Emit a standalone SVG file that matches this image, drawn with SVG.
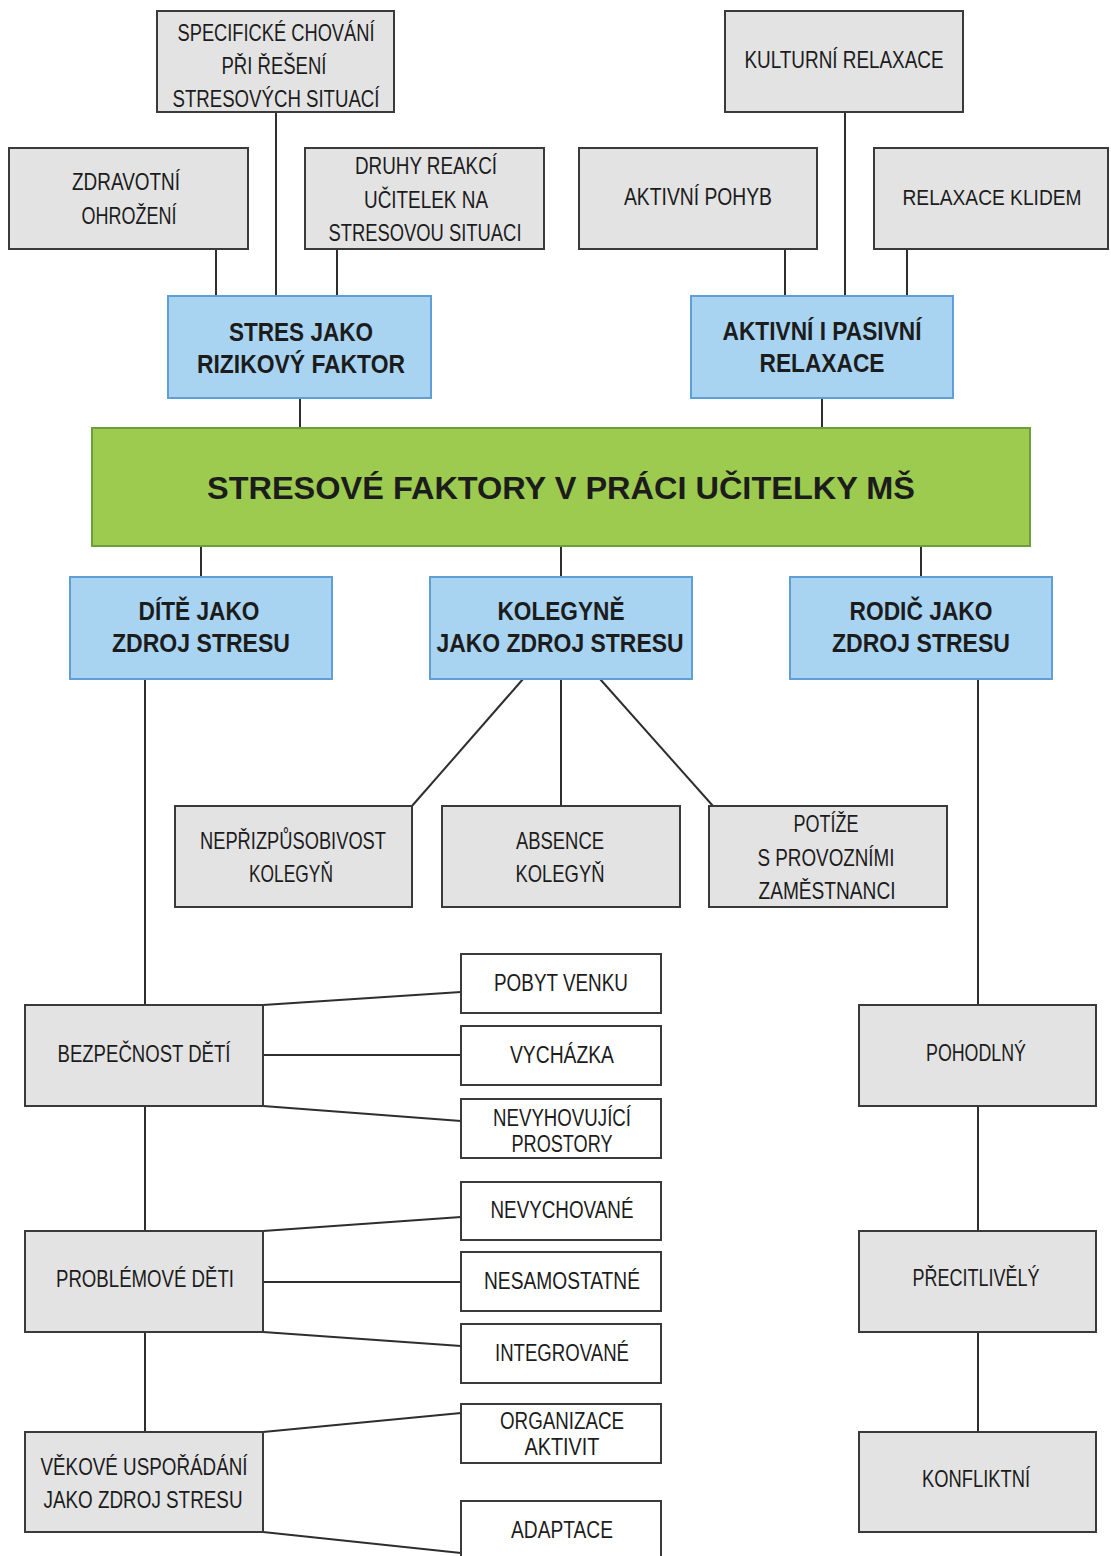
<svg xmlns="http://www.w3.org/2000/svg" width="1111" height="1556" viewBox="0 0 1111 1556">
<style>
.g rect{fill:#e3e3e3;stroke:#3a3a3a;stroke-width:2}
.w rect{fill:#ffffff;stroke:#3a3a3a;stroke-width:2}
.b rect{fill:#a8d4f2;stroke:#5f9fd6;stroke-width:2}
.m rect{fill:#9ccb50;stroke:#6a9f3c;stroke-width:2}
text{font-family:"Liberation Sans",Arial,sans-serif;fill:#1c1c1c;text-anchor:middle}
.g text{font-size:24px}
.w text{font-size:23px}
.b text{font-size:25px;font-weight:bold}
.m text{font-size:32px;font-weight:bold}
#connectors line{stroke:#2e2e2e;stroke-width:2}
</style>
<rect width="1111" height="1556" fill="#ffffff"/>
<g id="connectors">
<line x1="276" y1="112" x2="276" y2="296"/>
<line x1="216" y1="249" x2="216" y2="296"/>
<line x1="337" y1="249" x2="337" y2="296"/>
<line x1="300" y1="398" x2="300" y2="428"/>
<line x1="845" y1="112" x2="845" y2="296"/>
<line x1="785" y1="249" x2="785" y2="296"/>
<line x1="907" y1="249" x2="907" y2="296"/>
<line x1="822" y1="398" x2="822" y2="428"/>
<line x1="201" y1="546" x2="201" y2="577"/>
<line x1="561" y1="546" x2="561" y2="577"/>
<line x1="921" y1="546" x2="921" y2="577"/>
<line x1="523" y1="679" x2="412" y2="806"/>
<line x1="561" y1="679" x2="561" y2="806"/>
<line x1="600" y1="679" x2="713" y2="806"/>
<line x1="145" y1="679" x2="145" y2="1005"/>
<line x1="145" y1="1106" x2="145" y2="1231"/>
<line x1="145" y1="1332" x2="145" y2="1432"/>
<line x1="263" y1="1005" x2="461" y2="992"/>
<line x1="263" y1="1055" x2="461" y2="1055"/>
<line x1="263" y1="1106" x2="461" y2="1121"/>
<line x1="263" y1="1231" x2="461" y2="1217"/>
<line x1="263" y1="1282" x2="461" y2="1282"/>
<line x1="263" y1="1332" x2="461" y2="1346"/>
<line x1="263" y1="1432" x2="461" y2="1413"/>
<line x1="263" y1="1532" x2="461" y2="1553"/>
<line x1="978" y1="679" x2="978" y2="1005"/>
<line x1="978" y1="1106" x2="978" y2="1231"/>
<line x1="978" y1="1332" x2="978" y2="1432"/>
</g>
<g id="n-specificke" class="g"><rect x="157" y="11" width="237" height="101"/>
<text x="276" y="41" textLength="197" lengthAdjust="spacingAndGlyphs">SPECIFICKÉ CHOVÁNÍ</text>
<text x="274" y="74" textLength="105" lengthAdjust="spacingAndGlyphs">PŘI ŘEŠENÍ</text>
<text x="276" y="107" textLength="207" lengthAdjust="spacingAndGlyphs">STRESOVÝCH SITUACÍ</text></g>
<g id="n-zdravotni" class="g"><rect x="9" y="148" width="239" height="101"/>
<text x="126" y="190" textLength="108" lengthAdjust="spacingAndGlyphs">ZDRAVOTNÍ</text>
<text x="129" y="224" textLength="95" lengthAdjust="spacingAndGlyphs">OHROŽENÍ</text></g>
<g id="n-druhy" class="g"><rect x="305" y="148" width="239" height="101"/>
<text x="426" y="174" textLength="142" lengthAdjust="spacingAndGlyphs">DRUHY REAKCÍ</text>
<text x="426" y="208" textLength="124" lengthAdjust="spacingAndGlyphs">UČITELEK NA</text>
<text x="425" y="241" textLength="193" lengthAdjust="spacingAndGlyphs">STRESOVOU SITUACI</text></g>
<g id="n-stres" class="b"><rect x="168" y="296" width="263" height="102"/>
<text x="301" y="341" textLength="144" lengthAdjust="spacingAndGlyphs">STRES JAKO</text>
<text x="301" y="373" textLength="208" lengthAdjust="spacingAndGlyphs">RIZIKOVÝ FAKTOR</text></g>
<g id="n-kulturni" class="g"><rect x="725" y="11" width="238" height="101"/>
<text x="844" y="68" textLength="199" lengthAdjust="spacingAndGlyphs">KULTURNÍ RELAXACE</text></g>
<g id="n-aktivni-pohyb" class="g"><rect x="579" y="148" width="238" height="101"/>
<text x="698" y="205" textLength="148" lengthAdjust="spacingAndGlyphs">AKTIVNÍ POHYB</text></g>
<g id="n-relaxace-klidem" class="g"><rect x="874" y="148" width="234" height="101"/>
<text x="992" y="205" style="font-size:22px" textLength="179" lengthAdjust="spacingAndGlyphs">RELAXACE KLIDEM</text></g>
<g id="n-relaxace" class="b"><rect x="691" y="296" width="262" height="102"/>
<text x="822" y="340" textLength="199" lengthAdjust="spacingAndGlyphs">AKTIVNÍ I PASIVNÍ</text>
<text x="822" y="372" textLength="125" lengthAdjust="spacingAndGlyphs">RELAXACE</text></g>
<g id="n-main" class="m"><rect x="92" y="428" width="938" height="118"/>
<text x="561" y="499" textLength="708" lengthAdjust="spacingAndGlyphs">STRESOVÉ FAKTORY V PRÁCI UČITELKY MŠ</text></g>
<g id="n-dite" class="b"><rect x="70" y="577" width="262" height="102"/>
<text x="199" y="620" textLength="121" lengthAdjust="spacingAndGlyphs">DÍTĚ JAKO</text>
<text x="201" y="652" textLength="178" lengthAdjust="spacingAndGlyphs">ZDROJ STRESU</text></g>
<g id="n-kolegyne" class="b"><rect x="430" y="577" width="262" height="102"/>
<text x="561" y="620" textLength="127" lengthAdjust="spacingAndGlyphs">KOLEGYNĚ</text>
<text x="560" y="652" textLength="247" lengthAdjust="spacingAndGlyphs">JAKO ZDROJ STRESU</text></g>
<g id="n-rodic" class="b"><rect x="790" y="577" width="262" height="102"/>
<text x="921" y="620" textLength="143" lengthAdjust="spacingAndGlyphs">RODIČ JAKO</text>
<text x="921" y="652" textLength="178" lengthAdjust="spacingAndGlyphs">ZDROJ STRESU</text></g>
<g id="n-neprizpusobivost" class="g"><rect x="175" y="806" width="237" height="101"/>
<text x="293" y="849" textLength="186" lengthAdjust="spacingAndGlyphs">NEPŘIZPŮSOBIVOST</text>
<text x="291" y="882" textLength="84" lengthAdjust="spacingAndGlyphs">KOLEGYŇ</text></g>
<g id="n-absence" class="g"><rect x="442" y="806" width="238" height="101"/>
<text x="560" y="849" textLength="88" lengthAdjust="spacingAndGlyphs">ABSENCE</text>
<text x="560" y="882" textLength="89" lengthAdjust="spacingAndGlyphs">KOLEGYŇ</text></g>
<g id="n-potize" class="g"><rect x="709" y="806" width="238" height="101"/>
<text x="826" y="832" textLength="65" lengthAdjust="spacingAndGlyphs">POTÍŽE</text>
<text x="826" y="866" textLength="137" lengthAdjust="spacingAndGlyphs">S PROVOZNÍMI</text>
<text x="827" y="899" textLength="137" lengthAdjust="spacingAndGlyphs">ZAMĚSTNANCI</text></g>
<g id="n-bezpecnost" class="g"><rect x="25" y="1005" width="238" height="101"/>
<text x="144" y="1062" textLength="173" lengthAdjust="spacingAndGlyphs">BEZPEČNOST DĚTÍ</text></g>
<g id="n-problemove" class="g"><rect x="25" y="1231" width="238" height="101"/>
<text x="145" y="1287" textLength="178" lengthAdjust="spacingAndGlyphs">PROBLÉMOVÉ DĚTI</text></g>
<g id="n-vekove" class="g"><rect x="25" y="1432" width="238" height="100"/>
<text x="144" y="1475" textLength="207" lengthAdjust="spacingAndGlyphs">VĚKOVÉ USPOŘÁDÁNÍ</text>
<text x="143" y="1508" textLength="199" lengthAdjust="spacingAndGlyphs">JAKO ZDROJ STRESU</text></g>
<g id="n-pobyt" class="w"><rect x="461" y="954" width="200" height="59"/>
<text x="561" y="991" textLength="134" lengthAdjust="spacingAndGlyphs">POBYT VENKU</text></g>
<g id="n-vychazka" class="w"><rect x="461" y="1026" width="200" height="59"/>
<text x="562" y="1063" textLength="104" lengthAdjust="spacingAndGlyphs">VYCHÁZKA</text></g>
<g id="n-nevyhovujici" class="w"><rect x="461" y="1099" width="200" height="59"/>
<text x="562" y="1126" textLength="138" lengthAdjust="spacingAndGlyphs">NEVYHOVUJÍCÍ</text>
<text x="562" y="1152" textLength="101" lengthAdjust="spacingAndGlyphs">PROSTORY</text></g>
<g id="n-nevychovane" class="w"><rect x="461" y="1182" width="200" height="58"/>
<text x="562" y="1218" textLength="143" lengthAdjust="spacingAndGlyphs">NEVYCHOVANÉ</text></g>
<g id="n-nesamostatne" class="w"><rect x="461" y="1252" width="200" height="59"/>
<text x="562" y="1289" textLength="156" lengthAdjust="spacingAndGlyphs">NESAMOSTATNÉ</text></g>
<g id="n-integrovane" class="w"><rect x="461" y="1324" width="200" height="59"/>
<text x="562" y="1361" textLength="134" lengthAdjust="spacingAndGlyphs">INTEGROVANÉ</text></g>
<g id="n-organizace" class="w"><rect x="461" y="1404" width="200" height="59"/>
<text x="562" y="1429" textLength="124" lengthAdjust="spacingAndGlyphs">ORGANIZACE</text>
<text x="562" y="1455" textLength="75" lengthAdjust="spacingAndGlyphs">AKTIVIT</text></g>
<g id="n-adaptace" class="w"><rect x="461" y="1501" width="200" height="70"/>
<text x="562" y="1538" textLength="102" lengthAdjust="spacingAndGlyphs">ADAPTACE</text></g>
<g id="n-pohodlny" class="g"><rect x="859" y="1005" width="237" height="101"/>
<text x="976" y="1061" textLength="100" lengthAdjust="spacingAndGlyphs">POHODLNÝ</text></g>
<g id="n-precitlively" class="g"><rect x="859" y="1231" width="237" height="101"/>
<text x="976" y="1286" textLength="127" lengthAdjust="spacingAndGlyphs">PŘECITLIVĚLÝ</text></g>
<g id="n-konfliktni" class="g"><rect x="859" y="1432" width="237" height="100"/>
<text x="976" y="1487" textLength="108" lengthAdjust="spacingAndGlyphs">KONFLIKTNÍ</text></g>
</svg>
